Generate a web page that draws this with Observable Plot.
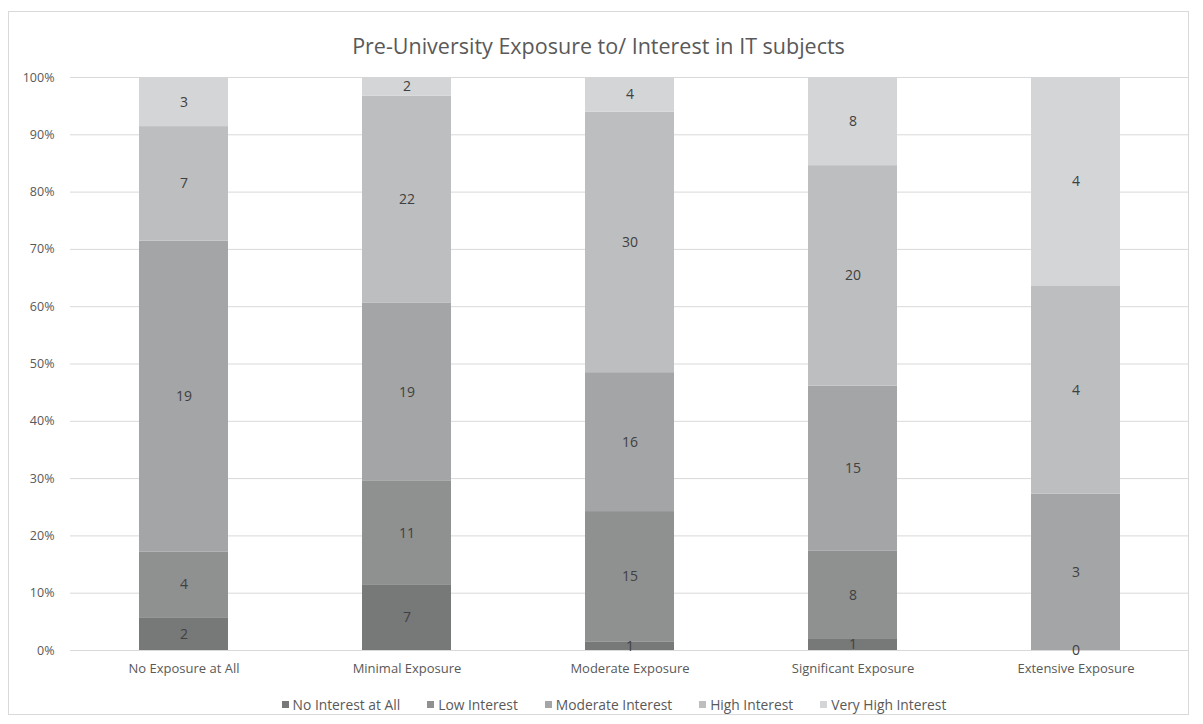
<!DOCTYPE html>
<html>
<head>
<meta charset="utf-8">
<script src="https://cdn.jsdelivr.net/npm/d3@7"></script>
<script src="https://cdn.jsdelivr.net/npm/@observablehq/plot@0.6"></script>
<style>
  body { margin: 0; background: #fff; font-family: "Open Sans", Lato, sans-serif; }
  #frame { position: absolute; left: 8px; top: 11px; width: 1181px; height: 704px; border: 1px solid #d9d9d9; box-sizing: border-box; }
  #title { position: absolute; left: 8px; width: 1181px; top: 31px; text-align: center; font-size: 21.5px; color: #595959; white-space: nowrap; }
  #chart { position: absolute; left: 0; top: 0; }
  #legend { position: absolute; left: 0; width: 1228px; top: 695px; display: flex; justify-content: center; gap: 27px; font-size: 13.8px; color: #595959; white-space: nowrap; }
  #legend span.item { display: inline-flex; align-items: center; }
  #legend span.sw { display: inline-block; width: 7px; height: 7px; margin-right: 4px; }
</style>
</head>
<body>
<div id="frame"></div>
<div id="title">Pre-University Exposure to/ Interest in IT subjects</div>
<div id="chart"></div>
<div id="legend"></div>
<script>
// Exposure levels (x axis) and interest levels (stacked series, bottom to top)
const categories = ["No Exposure at All", "Minimal Exposure", "Moderate Exposure", "Significant Exposure", "Extensive Exposure"];
const series = ["No Interest at All", "Low Interest", "Moderate Interest", "High Interest", "Very High Interest"];
const colors = ["#777878", "#8f9090", "#a4a5a6", "#bdbebf", "#d4d5d6"];

// Respondent counts per interest level, one value per exposure level (null = no entry)
const noInterest       = [2, 7, 1, 1, 0];
const lowInterest      = [4, 11, 15, 8, null];
const moderateInterest = [19, 19, 16, 15, 3];
const highInterest     = [7, 22, 30, 20, 4];
const veryHighInterest = [3, 2, 4, 8, 4];

const yTicks = [0, 0.1, 0.2, 0.3, 0.4, 0.5, 0.6, 0.7, 0.8, 0.9, 1];

const seriesValues = [noInterest, lowInterest, moderateInterest, highInterest, veryHighInterest];
const rows = series.flatMap((s, i) =>
  categories.map((c, j) => ({category: c, level: s, count: seriesValues[i][j]}))
    .filter(d => d.count != null)
);

const stack = {x: "category", y: "count", z: "level", offset: "normalize", order: series};

const chart = Plot.plot({
  width: 1203,
  height: 680,
  marginTop: 77,
  marginBottom: 30,
  marginLeft: 70,
  marginRight: 14,
  style: {fontFamily: "'Open Sans', Lato, sans-serif", fontSize: "13px", color: "#595959", background: "transparent"},
  x: {domain: categories, paddingInner: 0.6, paddingOuter: 0.3, label: null, tickSize: 0, tickPadding: 13},
  y: {domain: [0, 1], ticks: yTicks, tickFormat: d3.format(".0%"), label: null, tickSize: 0, tickPadding: 16},
  color: {domain: series, range: colors},
  marks: [
    Plot.gridY(yTicks, {stroke: "#d9d9d9", strokeOpacity: 1, strokeWidth: 1}),
    Plot.barY(rows, Plot.stackY({...stack, fill: "level", inset: 0})),
    Plot.text(rows, Plot.stackY({...stack, text: d => String(d.count), fill: "#404040", fontSize: 14}))
  ]
});
// y tick labels slightly smaller than the category labels
d3.select(chart).selectAll("g[aria-label='y-axis tick label'] text").style("font-size", "12.5px");
document.getElementById("chart").appendChild(chart);

// Legend below the plot
const legend = d3.select("#legend");
series.forEach((s, i) => {
  const item = legend.append("span").attr("class", "item");
  item.append("span").attr("class", "sw").style("background", colors[i]);
  item.append("span").text(s);
});
</script>
</body>
</html>
